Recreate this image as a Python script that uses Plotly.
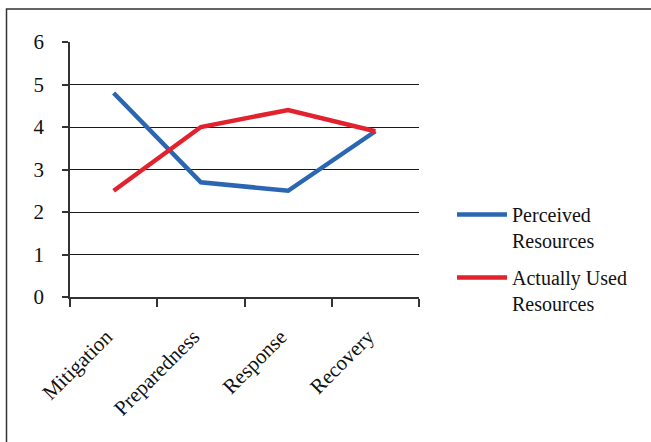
import plotly.graph_objects as go

# Disaster-management phases and mean resource scores
phases = ["Mitigation", "Preparedness", "Response", "Recovery"]
perceived = [4.8, 2.7, 2.5, 3.9]
actually_used = [2.5, 4.0, 4.4, 3.9]
y_ticks = [0, 1, 2, 3, 4, 5, 6]

FONT = "Liberation Serif"
BLUE = "#2A66B1"
RED = "#E3222F"

fig = go.Figure()
fig.add_trace(go.Scatter(
    x=phases, y=perceived, mode="lines", name="Perceived<br>Resources",
    line=dict(color=BLUE, width=4.5), legendgroup="a",
))
fig.add_trace(go.Scatter(
    x=phases, y=actually_used, mode="lines", name="Actually Used<br>Resources",
    line=dict(color=RED, width=4.5), legendgroup="b",
))

W, H = 651, 442
L, R, T, B = 70, 232, 42, 145
pw, ph = W - L - R, H - T - B

# outer frame of the chart area (open at right and bottom)
fig.add_shape(
    type="rect", xref="paper", yref="paper",
    x0=(6.5 - L) / pw, x1=(W + 20 - L) / pw,
    y0=-(B + 20) / ph, y1=(H - B - 9) / ph,
    line=dict(color="#333333", width=1.5), fillcolor="rgba(0,0,0,0)",
    layer="below",
)

fig.update_layout(
    width=W, height=H,
    margin=dict(l=L, r=R, t=T, b=B),
    paper_bgcolor="white", plot_bgcolor="white",
    font=dict(family=FONT, size=21, color="#111111"),
    showlegend=True,
    legend=dict(
        x=(452 - L) / pw, xanchor="left",
        y=(H - B - 195) / ph, yanchor="top",
        font=dict(family=FONT, size=20, color="#111111"),
        tracegroupgap=8, valign="top",
        bgcolor="rgba(0,0,0,0)", itemwidth=50,
    ),
    xaxis=dict(
        type="category", range=[-0.5, 3.5],
        tickvals=phases, ticktext=[p + "\u00a0\u00a0" for p in phases],
        showgrid=False, zeroline=False,
        showline=True, linecolor="#333333", linewidth=1.5,
        ticks="outside", tickson="boundaries", ticklen=8,
        tickcolor="#333333", tickwidth=1.5,
        tickangle=-45, tickfont=dict(family=FONT, size=21, color="#111111"),
        ticklabelstandoff=10,
    ),
    yaxis=dict(
        range=[0, 6], tickvals=y_ticks, ticktext=[str(v) for v in y_ticks],
        showgrid=True, gridcolor="#1a1a1a", gridwidth=1.2,
        zeroline=False,
        showline=True, linecolor="#333333", linewidth=1.5,
        ticks="outside", ticklen=6, tickcolor="#333333", tickwidth=1.5,
        tickfont=dict(family=FONT, size=21, color="#111111"),
        ticklabelstandoff=14,
    ),
)

fig.write_html("out.html")
